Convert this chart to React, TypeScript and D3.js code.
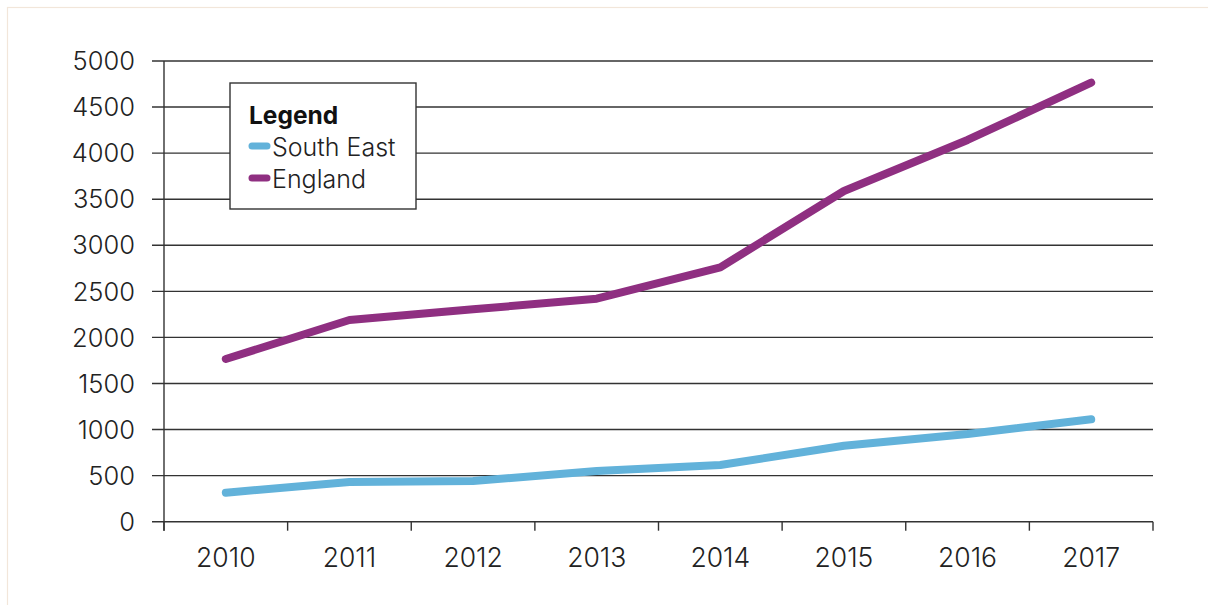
import React from "react";
import * as d3 from "d3";

const years = ["2010", "2011", "2012", "2013", "2014", "2015", "2016", "2017"];
const southEast = [315, 431, 442, 550, 615, 825, 952, 1111];
const england = [1766, 2189, 2305, 2420, 2761, 3589, 4143, 4765];
const yTicks = [0, 500, 1000, 1500, 2000, 2500, 3000, 3500, 4000, 4500, 5000];
const seriesNames = ["South East", "England"];
const seriesColors = ["#62b2da", "#8f2f81"];

const W = 1208;
const H = 605;
const left = 164;
const right = 1153;
const top = 61;
const bottom = 521.7;
const FONT = "Inter, 'Liberation Sans', Arial, sans-serif";

export default function App() {
  const x = d3.scaleBand<string>().domain(years).range([left, right]);
  const y = d3.scaleLinear().domain([0, 5000]).range([bottom, top]);
  const line = d3
    .line<number>()
    .x((_, i) => (x(years[i]) as number) + x.bandwidth() / 2)
    .y((d) => y(d));
  const series = [southEast, england];
  const boundaries = [...years.map((yr) => x(yr) as number), right];

  return (
    <svg
      width={W}
      height={H}
      style={{ position: "absolute", left: 0, top: 0, background: "#fff" }}
    >
      <rect x={7.5} y={7.5} width={1400} height={800} fill="none" stroke="#f2e6da" strokeWidth={1.2} />
      {yTicks.map((t) => (
        <g key={t}>
          <line x1={left - 12} x2={right} y1={y(t)} y2={y(t)} stroke="#333" strokeWidth={1.4} />
          <text
            x={135}
            y={y(t)}
            dy="0.36em"
            textAnchor="end"
            fontFamily={FONT}
            fontWeight={300}
            fontSize={25.5}
            fill="#222"
          >
            {t}
          </text>
        </g>
      ))}
      <line x1={left} x2={left} y1={top} y2={bottom + 9} stroke="#333" strokeWidth={1.4} />
      {boundaries.map((b, i) => (
        <line key={i} x1={b} x2={b} y1={bottom} y2={bottom + 9} stroke="#333" strokeWidth={1.4} />
      ))}
      {years.map((yr) => (
        <text
          key={yr}
          x={(x(yr) as number) + x.bandwidth() / 2}
          y={567}
          textAnchor="middle"
          fontFamily={FONT}
          fontWeight={300}
          fontSize={26.5}
          fill="#222"
        >
          {yr}
        </text>
      ))}
      {series.map((s, i) => (
        <path
          key={i}
          d={line(s) as string}
          fill="none"
          stroke={seriesColors[i]}
          strokeWidth={8}
          strokeLinecap="round"
          strokeLinejoin="round"
        />
      ))}
      <g>
        <rect x={230} y={83} width={186} height={126} fill="#fff" stroke="#333" strokeWidth={1.4} />
        <text x={249} y={124} fontFamily={FONT} fontSize={24.5} fontWeight={700} fill="#111">
          Legend
        </text>
        {seriesNames.map((n, i) => (
          <g key={n}>
            <line
              x1={252}
              x2={267}
              y1={146 + i * 32}
              y2={146 + i * 32}
              stroke={seriesColors[i]}
              strokeWidth={7}
              strokeLinecap="round"
            />
            <text x={272} y={156 + i * 32} fontFamily={FONT} fontWeight={300} fontSize={25} fill="#222">
              {n}
            </text>
          </g>
        ))}
      </g>
    </svg>
  );
}
